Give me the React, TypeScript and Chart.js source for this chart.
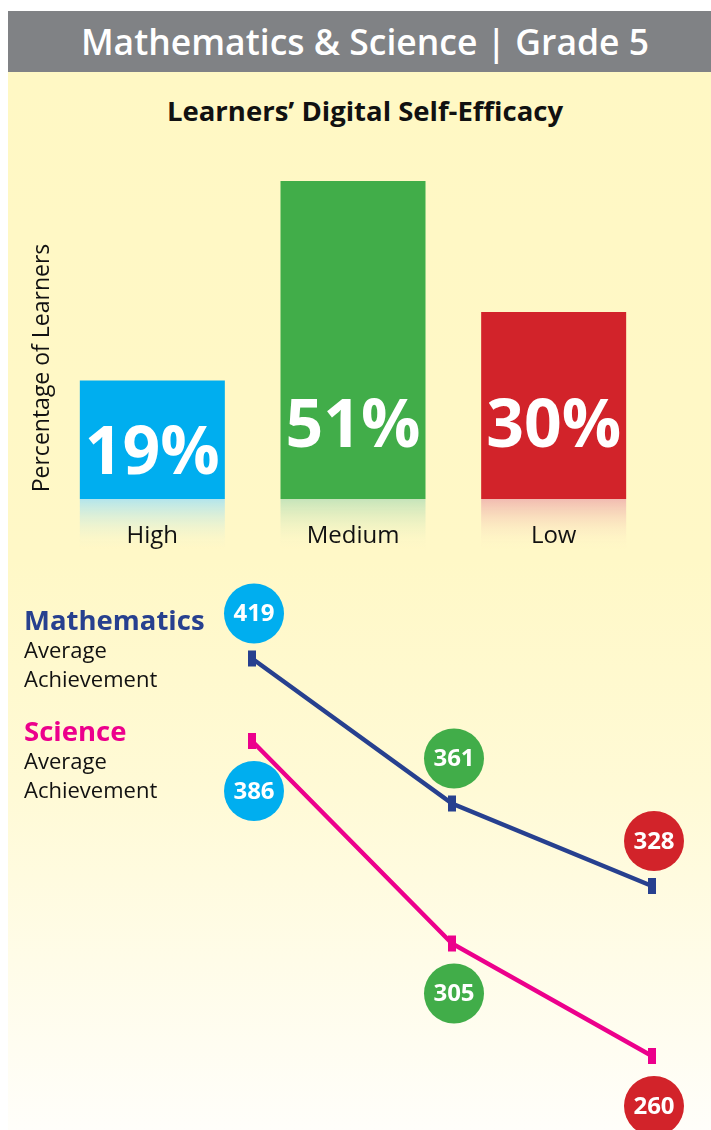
import React, { useEffect, useRef } from "react";
import { Chart, registerables } from "chart.js";

Chart.register(...registerables);

const FONT = '"Open Sans", "Noto Sans", sans-serif';

// ---- data ----
const efficacyLevels = ["High", "Medium", "Low"];
const learnerPercent = [19, 51, 30];
const levelColors = ["#00AEEF", "#41AD49", "#D2232A"];

const mathScores = [419, 361, 328];
const scienceScores = [386, 305, 260];
const subjectNames = ["Mathematics", "Science"];
const subjectColors = ["#27408F", "#EC008C"];
const subjectSubLines = ["Average", "Achievement"];

const headerText = "Mathematics & Science | Grade 5";
const chartTitle = "Learners\u2019 Digital Self-Efficacy";
const yAxisTitle = "Percentage of Learners";

function hexToRgb(hex: string): number[] {
  const h = hex.replace("#", "");
  return [0, 2, 4].map((i) => parseInt(h.slice(i, i + 2), 16));
}

function mixWith(hex: string, base: number[], t: number): string {
  const c = hexToRgb(hex);
  const m = c.map((v, i) => Math.round(v * t + base[i] * (1 - t)));
  return `rgb(${m[0]},${m[1]},${m[2]})`;
}

const barDecor = {
  id: "barDecor",
  beforeDraw(chart: any) {
    const ctx = chart.ctx;
    const meta = chart.getDatasetMeta(0);
    meta.data.forEach((bar: any, i: number) => {
      const { x, base, width } = bar.getProps(["x", "base", "width"], true);
      const h = 52;
      const grad = ctx.createLinearGradient(0, base, 0, base + h);
      grad.addColorStop(0, mixWith(levelColors[i], [255, 252, 235], 0.3));
      grad.addColorStop(1, "rgba(255,248,200,0)");
      ctx.save();
      ctx.fillStyle = grad;
      ctx.fillRect(x - width / 2, base, width, h);
      ctx.restore();
    });
  },
  afterDatasetsDraw(chart: any) {
    const ctx = chart.ctx;
    const meta = chart.getDatasetMeta(0);
    ctx.save();
    ctx.font = `bold 66px ${FONT}`;
    ctx.fillStyle = "#FFFFFF";
    ctx.textAlign = "center";
    ctx.textBaseline = "alphabetic";
    meta.data.forEach((bar: any, i: number) => {
      const { x, y, base } = bar.getProps(["x", "y", "base"], true);
      const ty = Math.max(base - 52, y + 93);
      ctx.fillText(`${learnerPercent[i]}%`, x, ty);
    });
    ctx.restore();
  },
  afterDraw(chart: any) {
    const ctx = chart.ctx;
    ctx.save();
    ctx.translate(49, 228);
    ctx.rotate(-Math.PI / 2);
    ctx.font = `23px ${FONT}`;
    ctx.fillStyle = "#111111";
    ctx.textAlign = "center";
    ctx.textBaseline = "alphabetic";
    ctx.fillText(yAxisTitle, 0, 0);
    ctx.restore();
  },
};

const lineDecor = {
  id: "lineDecor",
  beforeDraw(chart: any) {
    const ctx = chart.ctx;
    ctx.save();
    ctx.textAlign = "left";
    ctx.textBaseline = "alphabetic";
    const blocks = [
      { name: subjectNames[0], color: subjectColors[0], base: 60 },
      { name: subjectNames[1], color: subjectColors[1], base: 171 },
    ];
    blocks.forEach((b) => {
      ctx.font = `bold 27.5px ${FONT}`;
      ctx.fillStyle = b.color;
      ctx.fillText(b.name, 24, b.base);
      ctx.font = `22px ${FONT}`;
      ctx.fillStyle = "#111111";
      ctx.fillText(subjectSubLines[0], 24, b.base + 28);
      ctx.fillText(subjectSubLines[1], 24, b.base + 57);
    });
    ctx.restore();
  },
  afterDatasetsDraw(chart: any) {
    const ctx = chart.ctx;
    const offsets = [-45, 50];
    const values = [mathScores, scienceScores];
    ctx.save();
    chart.data.datasets.forEach((_: any, di: number) => {
      const meta = chart.getDatasetMeta(di);
      meta.data.forEach((pt: any, i: number) => {
        const cx = pt.x + 2;
        const cy = pt.y + offsets[di];
        ctx.beginPath();
        ctx.arc(cx, cy, 30, 0, Math.PI * 2);
        ctx.fillStyle = levelColors[i];
        ctx.fill();
        ctx.font = `bold 24px ${FONT}`;
        ctx.fillStyle = "#FFFFFF";
        ctx.textAlign = "center";
        ctx.textBaseline = "middle";
        ctx.fillText(String(values[di][i]), cx, cy + 1);
      });
    });
    ctx.restore();
  },
};

export default function App() {
  const barRef = useRef<HTMLCanvasElement>(null);
  const lineRef = useRef<HTMLCanvasElement>(null);

  useEffect(() => {
    const barChart = new Chart(barRef.current as HTMLCanvasElement, {
      type: "bar",
      data: {
        labels: efficacyLevels,
        datasets: [
          {
            data: learnerPercent,
            backgroundColor: levelColors,
            borderWidth: 0,
            barPercentage: 0.7226,
            categoryPercentage: 1,
          },
        ],
      },
      options: {
        animation: false,
        responsive: false,
        maintainAspectRatio: false,
        layout: { padding: { left: 52, right: 57, top: 41, bottom: 0 } },
        plugins: {
          legend: { display: false },
          tooltip: { enabled: false },
          title: { display: false },
        },
        scales: {
          x: {
            grid: { display: false, drawTicks: false },
            border: { display: false },
            ticks: {
              color: "#111111",
              font: { family: FONT, size: 24 },
              padding: 23,
            },
            afterFit: (s: any) => {
              s.height = 71;
            },
          },
          y: { display: false, min: 0, max: 51 },
        },
      } as any,
      plugins: [barDecor],
    });

    const lineChart = new Chart(lineRef.current as HTMLCanvasElement, {
      type: "line",
      data: {
        labels: efficacyLevels,
        datasets: [
          {
            label: subjectNames[0],
            data: mathScores,
            borderColor: subjectColors[0],
            backgroundColor: subjectColors[0],
            borderWidth: 4.5,
            tension: 0,
            pointStyle: "line",
            pointRadius: 8,
            pointBorderWidth: 8,
            pointRotation: 90,
            pointBorderColor: subjectColors[0],
            clip: false,
          },
          {
            label: subjectNames[1],
            data: scienceScores,
            borderColor: subjectColors[1],
            backgroundColor: subjectColors[1],
            borderWidth: 4.5,
            tension: 0,
            pointStyle: "line",
            pointRadius: 8,
            pointBorderWidth: 8,
            pointRotation: 90,
            pointBorderColor: subjectColors[1],
            clip: false,
          },
        ],
      },
      options: {
        animation: false,
        responsive: false,
        maintainAspectRatio: false,
        layout: { padding: { left: 252, right: 59, top: 36, bottom: 24 } },
        plugins: {
          legend: { display: false },
          tooltip: { enabled: false },
        },
        scales: {
          x: { display: false, offset: false },
          y: { display: false, min: 240, max: 440 },
        },
      } as any,
      plugins: [lineDecor],
    });

    return () => {
      barChart.destroy();
      lineChart.destroy();
    };
  }, []);

  return (
    <div
      style={{
        position: "absolute",
        left: 0,
        top: 0,
        width: 711,
        height: 1130,
        background: "#FFFFFF",
        overflow: "hidden",
        fontFamily: FONT,
      }}
    >
      <div
        style={{
          position: "absolute",
          left: 8,
          top: 72,
          width: 703,
          height: 1058,
          background:
            "linear-gradient(to bottom, #FFF8C4 0%, #FFF8C7 46%, #FFFAD6 68%, #FFFEFA 100%)",
        }}
      />
      <div
        style={{
          position: "absolute",
          left: 8,
          top: 11,
          width: 703,
          height: 61,
          boxSizing: "border-box",
          paddingLeft: 11,
          background: "#808285",
          color: "#FFFFFF",
          fontWeight: 600,
          fontSize: 35.5,
          lineHeight: "61px",
          textAlign: "center",
          whiteSpace: "nowrap",
        }}
      >
        {headerText}
      </div>
      <div
        style={{
          position: "absolute",
          left: 8,
          top: 81,
          width: 703,
          height: 60,
          boxSizing: "border-box",
          paddingLeft: 11,
          color: "#111111",
          fontWeight: 700,
          fontSize: 27.5,
          lineHeight: "60px",
          textAlign: "center",
          whiteSpace: "nowrap",
        }}
      >
        {chartTitle}
      </div>
      <canvas
        ref={barRef}
        width={711}
        height={430}
        style={{ position: "absolute", left: 0, top: 140, width: 711, height: 430, display: "block" }}
      />
      <canvas
        ref={lineRef}
        width={711}
        height={560}
        style={{ position: "absolute", left: 0, top: 570, width: 711, height: 560, display: "block" }}
      />
    </div>
  );
}
